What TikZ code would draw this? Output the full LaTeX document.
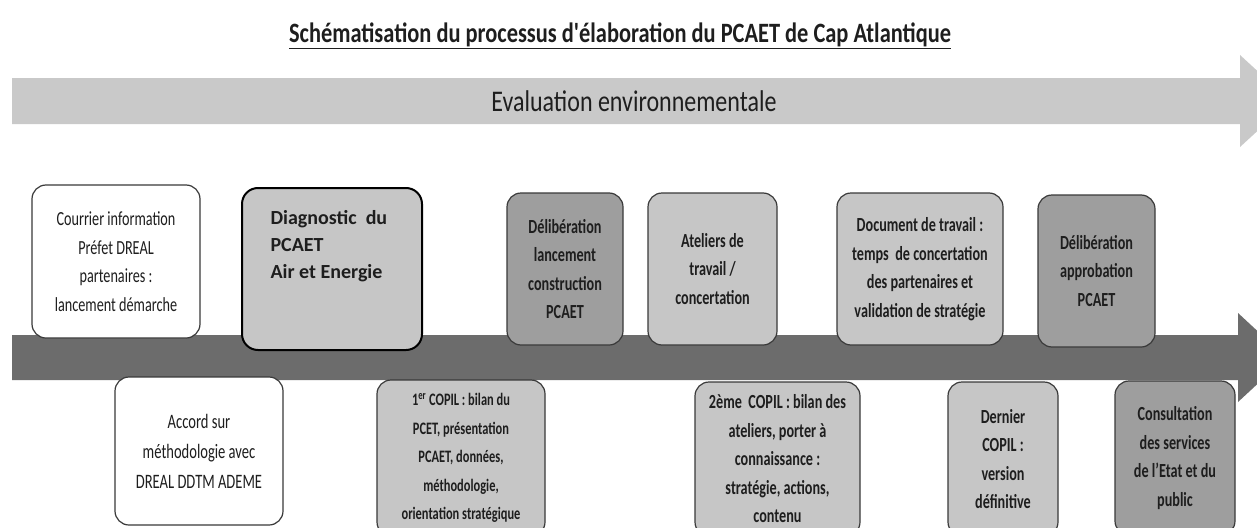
\documentclass[tikz,border=0pt]{standalone}
\usepackage{fontspec}
\setmainfont{Carlito}[FakeStretch=0.71]
\newfontfamily\plainfont{Carlito}
\newfontfamily\headfont{Carlito}[FakeStretch=0.8]
\definecolor{bandlight}{HTML}{C9C9C9}
\definecolor{banddark}{HTML}{6C6C6C}
\definecolor{filllight}{HTML}{C6C6C6}
\definecolor{filldark}{HTML}{9E9E9E}
\definecolor{boxline}{HTML}{3A3A3A}
\definecolor{txt}{HTML}{1E1E1E}
\begin{document}
\begin{tikzpicture}[x=1pt,y=-1pt,
  box/.style={draw=boxline, line width=1.2pt, rounded corners=14pt, align=center,
    text=txt, inner sep=2pt, font=\fontsize{20}{28.5}\selectfont},
  whitebox/.style={box, fill=white},
  lightbox/.style={box, fill=filllight, font=\fontsize{20}{28.5}\selectfont\bfseries},
  darkbox/.style={box, fill=filldark, font=\fontsize{20}{28.5}\selectfont\bfseries},
  diagbox/.style={draw=black, line width=2pt, rounded corners=16pt, fill=filllight}
]
\useasboundingbox (0,0) rectangle (1257,527);
\fill[white] (0,0) rectangle (1257,527);
\begin{scope}
\clip (0,0) rectangle (1257,527);
% light arrow
\fill[bandlight] (12,78) -- (1240,78) -- (1240,55) -- (1290,101) -- (1240,147) -- (1240,124) -- (12,124) -- cycle;
% dark arrow
\fill[banddark] (12,335) -- (1238,335) -- (1238,313) -- (1286,357.5) -- (1238,402) -- (1238,380) -- (12,380) -- cycle;

\node[font=\headfont\fontsize{28}{30}\selectfont\bfseries, text=txt] (title) at (620,36) {\underline{Schématisation du processus d'élaboration du PCAET de Cap Atlantique}};
\node[font=\headfont\fontsize{30}{32}\selectfont, text=txt] (eval) at (634,101) {Evaluation environnementale};

\node[whitebox, minimum width=168pt, minimum height=153pt] (b1) at (116,261.5)
  {Courrier information\\Préfet DREAL\\partenaires :\\lancement démarche};
\node[diagbox, minimum width=180pt, minimum height=162pt] (b2) at (332,269) {};
\node[anchor=north west, align=left, text=txt, font=\plainfont\fontsize{20}{27}\selectfont\bfseries] (b2t) at (267,207)
  {Diagnostic~~du\\PCAET\\Air et Energie};
\node[whitebox, minimum width=168pt, minimum height=148pt, font=\fontsize{20.5}{30}\selectfont] (b3) at (199,451)
  {Accord sur\\méthodologie avec\\DREAL DDTM ADEME};
\node[lightbox, minimum width=168pt, minimum height=156pt, font=\fontsize{17.5}{28.5}\selectfont\bfseries] (b4) at (461,458)
  {1\textsuperscript{er} COPIL : bilan du\\PCET, présentation\\PCAET, données,\\méthodologie,\\orientation stratégique};
\node[darkbox, minimum width=116pt, minimum height=152pt] (b5) at (565,269)
  {Délibération\\lancement\\construction\\PCAET};
\node[lightbox, minimum width=129pt, minimum height=152pt] (b6) at (712.5,269)
  {Ateliers de\\travail /\\concertation};
\node[lightbox, minimum width=165pt, minimum height=154pt] (b7) at (777.5,459)
  {2ème~ COPIL : bilan des\\ateliers, porter à\\connaissance :\\stratégie, actions,\\contenu};
\node[lightbox, minimum width=166pt, minimum height=152pt] (b8) at (920,269)
  {Document de travail :\\temps~ de concertation\\des partenaires et\\validation de stratégie};
\node[darkbox, minimum width=117pt, minimum height=152pt] (b9) at (1096.5,271)
  {Délibération\\approbation\\PCAET};
\node[lightbox, minimum width=110pt, minimum height=154pt] (b10) at (1003,459)
  {Dernier\\COPIL :\\version\\définitive};
\node[darkbox, minimum width=120pt, minimum height=154pt] (b11) at (1175,458)
  {Consultation\\des services\\de l'Etat et du\\public};
\end{scope}
\end{tikzpicture}
\end{document}
